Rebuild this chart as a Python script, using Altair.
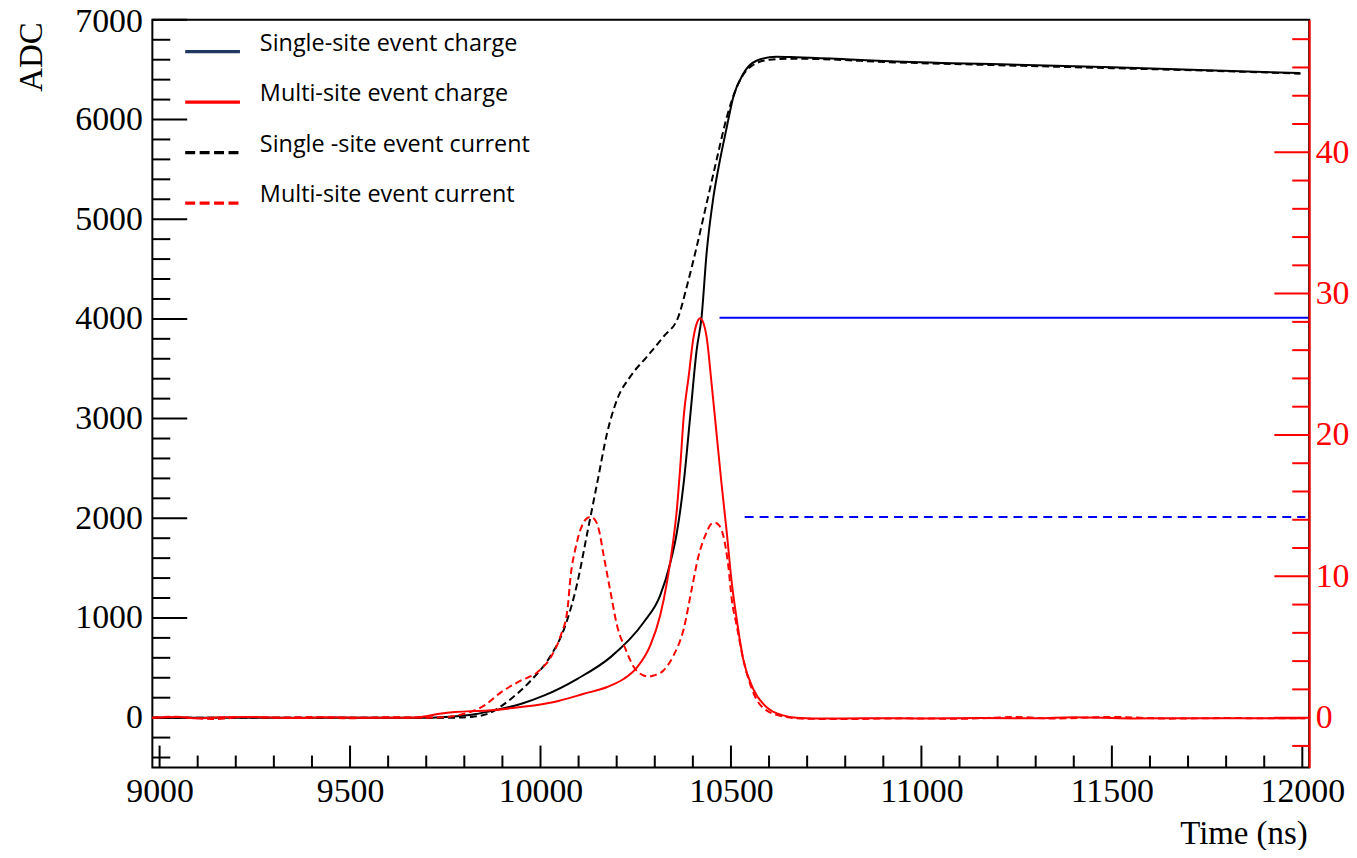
import altair as alt
import pandas as pd

# ---------------- data ----------------
# Black solid (left axis, ADC)
bs_t = [8981, 9100, 9300, 9500, 9700, 9760, 9827, 9879, 9950, 10010, 10097, 10184, 10271, 10314,
        10341, 10358, 10376, 10393, 10410, 10423, 10436, 10454, 10471, 10489, 10506, 10532, 10567,
        10619, 10671, 10800, 10933, 11250, 11500, 11750, 11995]
bs_v = [0, 0, 0, 0, 0, 10, 35, 73, 140, 223, 390, 607, 957, 1223,
        1557, 1857, 2357, 3023, 3690, 4023, 4657, 5223, 5590, 5923, 6223, 6457, 6590,
        6630, 6625, 6605, 6583, 6550, 6525, 6495, 6465]

# Black dashed (left axis, ADC)
bd_t = [8981, 9200, 9400, 9600, 9780, 9818, 9862, 9923, 9975, 10027, 10062, 10097, 10123, 10149,
        10175, 10201, 10236, 10280, 10323, 10362, 10384, 10410, 10436, 10462, 10489, 10515, 10549,
        10602, 10671, 10933, 11250, 11500, 11750, 11995]
bd_v = [0, 0, 0, 0, 0, 7, 40, 190, 373, 623, 890, 1357, 1857, 2357,
        2857, 3190, 3423, 3623, 3823, 4023, 4323, 4723, 5157, 5590, 6023, 6323, 6523,
        6600, 6610, 6573, 6540, 6515, 6490, 6460]

# Red solid (right axis)
rs_t = [8981, 9050, 9100, 9160, 9250, 9350, 9450, 9550, 9650, 9688, 9740, 9775, 9862, 9949,
        10036, 10114, 10175, 10219, 10254, 10288, 10314, 10332, 10349, 10358, 10367, 10376, 10389,
        10402, 10411, 10419, 10428, 10436, 10449, 10462, 10475, 10489, 10502, 10515, 10532, 10558,
        10593, 10637, 10671, 10750, 10850, 11000, 11150, 11300, 11400, 11550, 11700, 11850, 12008]
rs_v = [0.0, 0.04, -0.05, 0.03, 0.05, -0.03, 0.02, 0.0, 0.0, 0.05, 0.3, 0.4, 0.51, 0.75,
        1.11, 1.69, 2.17, 2.75, 3.58, 5.10, 7.21, 9.57, 12.62, 14.74, 17.79, 21.32, 24.14,
        26.96, 27.95, 28.26, 27.9, 26.96, 23.67, 20.15, 16.62, 13.10, 9.57, 6.98, 4.16, 2.05,
        0.75, 0.16, 0.0, -0.06, -0.04, -0.06, -0.03, -0.05, 0.03, -0.06, -0.04, -0.05, -0.04]

# Red dashed (right axis)
rd_t = [8981, 9040, 9100, 9150, 9220, 9300, 9400, 9500, 9600, 9700, 9740, 9783, 9853, 9897,
        9949, 9992, 10027, 10053, 10071, 10079, 10092, 10105, 10118, 10131, 10143, 10153, 10166,
        10184, 10201, 10223, 10245, 10271, 10285, 10297, 10323, 10349, 10376, 10397, 10415, 10436,
        10448, 10458, 10469, 10480, 10493, 10502, 10515, 10532, 10558, 10593, 10645, 10700, 10800,
        10950, 11100, 11250, 11350, 11500, 11650, 11800, 11950, 12008]
rd_v = [0.0, 0.06, -0.05, -0.1, 0.05, 0.0, 0.04, -0.04, 0.03, 0.0, 0.02, 0.16, 0.87, 1.81,
        2.63, 3.22, 4.28, 5.80, 7.69, 10.0, 12.0, 13.3, 14.0, 14.2, 14.0, 13.33, 11.45,
        8.86, 6.51, 4.87, 3.58, 2.98, 2.9, 2.98, 3.34, 4.39, 6.28, 9.10, 11.45, 13.10,
        13.7, 13.8, 13.6, 12.86, 10.74, 8.39, 6.51, 4.16, 1.81, 0.51, 0.05, -0.08, -0.1,
        -0.05, -0.08, 0.04, -0.06, 0.05, -0.07, -0.03, -0.05, -0.04]

# Blue reference lines (right axis)
blue_solid_t = [10470, 12015]
blue_solid_v = [28.3, 28.3]
blue_dash_t = [10536, 12008]
blue_dash_v = [14.2, 14.2]

# Axes ticks
x_major = [9000, 9500, 10000, 10500, 11000, 11500, 12000]
x_minor = [v for v in range(9100, 12000, 100) if v not in x_major]
l_major = [0, 1000, 2000, 3000, 4000, 5000, 6000, 7000]
l_minor = [v for v in range(-400, 7000, 200) if v not in l_major]
r_major = [0, 10, 20, 30, 40]
r_minor = [v for v in range(-2, 50, 2) if v not in r_major]

# Legend
leg_labels = ["Single-site event charge", "Multi-site event charge",
              "Single -site event current", "Multi-site event current"]
leg_colors = ["#1F3864", "#FF0000", "#000000", "#FF0000"]
leg_dashed = [False, False, True, True]

# ---------------- chart ----------------
W, H = 1162, 751
SERIF = "Liberation Serif"
xscale = alt.Scale(domain=[8981, 12018], nice=False, zero=False)
lscale = alt.Scale(domain=[-500, 7000], nice=False, zero=False)
rscale = alt.Scale(domain=[-3.526, 49.37], nice=False, zero=False)

xaxis = alt.Axis(values=x_major, format="d", title="Time (ns)", labelFont=SERIF, labelFontSize=34,
                 labelColor="black", labelPadding=7, labelFlush=False, labelOverlap=False,
                 ticks=False, tickSize=0, domain=False, grid=False,
                 titleFont=SERIF, titleFontSize=33, titleFontWeight="normal", titleColor="black",
                 titleX=1160, titleY=76, titleAlign="right", titleBaseline="alphabetic")
laxis = alt.Axis(values=l_major, format="d", title="ADC", labelFont=SERIF, labelFontSize=34,
                 labelColor="black", labelPadding=10, labelFlush=False, labelOverlap=False,
                 ticks=False, tickSize=0, domain=False, grid=False,
                 labelOffset=alt.ExprRef("datum.value == 7000 ? 2 : 0"),
                 titleFont=SERIF, titleFontSize=33, titleFontWeight="normal", titleColor="black",
                 titleAngle=270, titleX=-121, titleY=2, titleAlign="right", titleBaseline="middle")
raxis = alt.Axis(values=r_major, format="d", title="", orient="right", labelFont=SERIF,
                 labelFontSize=34, labelColor="#FF0000", labelPadding=6, labelFlush=False,
                 labelOverlap=False, ticks=False, tickSize=0, domain=True, domainColor="#FF0000",
                 domainWidth=2, grid=False)


def line(t, v, scale, axis, color, dash=None, width=2.0):
    df = pd.DataFrame({"t": t, "v": v})
    kw = dict(color=color, strokeWidth=width, interpolate="monotone")
    if dash:
        kw["strokeDash"] = dash
    return alt.Chart(df).mark_line(**kw).encode(
        x=alt.X("t:Q", scale=xscale, axis=xaxis),
        y=alt.Y("v:Q", scale=scale, axis=axis),
    )


def yticks(vals, scale, axis, color, x0, x1):
    return alt.Chart(pd.DataFrame({"v": vals})).mark_rule(color=color, strokeWidth=2).encode(
        y=alt.Y("v:Q", scale=scale, axis=axis), x=alt.value(x0), x2=alt.value(x1))


def xticks(vals, length):
    return alt.Chart(pd.DataFrame({"v": vals})).mark_rule(color="black", strokeWidth=2).encode(
        x=alt.X("v:Q", scale=xscale, axis=xaxis), y=alt.value(H), y2=alt.value(H - length))


left_layers = [
    line(bs_t, bs_v, lscale, laxis, "#000000"),
    line(bd_t, bd_v, lscale, laxis, "#000000", dash=[7, 4]),
    yticks(l_major, lscale, laxis, "black", 0, 35),
    yticks(l_minor, lscale, laxis, "black", 0, 18),
    xticks(x_major, 22),
    xticks(x_minor, 12),
]

for i, (lab, col, dsh) in enumerate(zip(leg_labels, leg_colors, leg_dashed)):
    yy = 32 + 50.7 * i
    df = pd.DataFrame({"label": [lab]})
    kw = dict(color=col, strokeWidth=3.2)
    if dsh:
        kw["strokeDash"] = [10, 4.5]
    left_layers.append(alt.Chart(df).mark_rule(**kw).encode(
        x=alt.value(33), x2=alt.value(88), y=alt.value(yy)))
    left_layers.append(alt.Chart(df).mark_text(
        align="left", baseline="alphabetic", font="Open Sans", fontSize=23.5, color="black"
    ).encode(x=alt.value(108), y=alt.value(yy - 1), text="label:N"))

right_layers = [
    line(blue_solid_t, blue_solid_v, rscale, raxis, "#0000FF"),
    line(blue_dash_t, blue_dash_v, rscale, raxis, "#0000FF", dash=[9, 6]),
    line(rd_t, rd_v, rscale, raxis, "#FF0000", dash=[7, 4]),
    line(rs_t, rs_v, rscale, raxis, "#FF0000"),
    yticks(r_major, rscale, raxis, "#FF0000", W, W - 35),
    yticks(r_minor, rscale, raxis, "#FF0000", W, W - 17),
]

left = alt.layer(*left_layers)
right = alt.layer(*right_layers)

chart = (
    alt.layer(left, right)
    .resolve_scale(y="independent")
    .resolve_axis(y="independent")
    .properties(
        width=W,
        height=H,
        padding={"left": 145, "top": 10, "right": 40, "bottom": 81},
        autosize=alt.AutoSizeParams(type="none"),
        background="white",
    )
    .configure_view(stroke="black", strokeWidth=2)
    .configure_axis(labelFont=SERIF, labelFontSize=34, titleFont=SERIF, titleFontSize=33,
                    titleFontWeight="normal")
    .configure_axisRight(labelColor="#FF0000")
)

chart.save("out.html", embed_options={"renderer": "svg", "actions": False})
